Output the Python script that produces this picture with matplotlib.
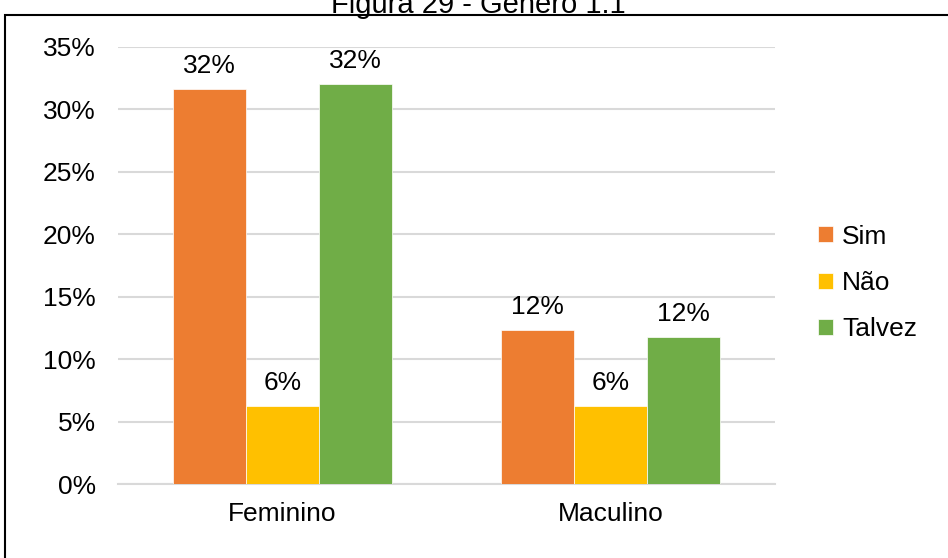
import matplotlib
matplotlib.use("Agg")
import matplotlib.pyplot as plt
import numpy as np
from matplotlib.patches import Rectangle

plt.rcParams["font.family"] = ["Liberation Sans", "DejaVu Sans"]

categories = ["Feminino", "Maculino"]
series = ["Sim", "Não", "Talvez"]
sim = [0.316, 0.123]
nao = [0.0625, 0.0625]
talvez = [0.32, 0.118]
colors = ["#ED7D31", "#FFC000", "#70AD47"]
yticks = [0, 0.05, 0.10, 0.15, 0.20, 0.25, 0.30, 0.35]

FS = 19

fig = plt.figure(figsize=(9.48, 5.58), dpi=100)
ax = fig.add_axes([0.1245, 0.1326, 0.6930, 0.7832])

x = np.arange(len(categories))
width = 0.222
for i, (name, vals, col) in enumerate(zip(series, [sim, nao, talvez], colors)):
    pos = x + (i - 1) * width
    bars = ax.bar(pos, vals, width, color=col, label=name,
                  edgecolor="white", linewidth=0.5, zorder=3)
    for b, v in zip(bars, vals):
        ax.annotate(f"{v:.0%}", (b.get_x() + b.get_width() / 2, v),
                    xytext=(0, 8), textcoords="offset points",
                    ha="center", va="bottom", fontsize=FS)

ax.set_xlim(-0.5, 1.5)
ax.set_ylim(0, 0.35)
ax.set_yticks(yticks)
ax.set_yticklabels([f"{t:.0%}" for t in yticks])
ax.set_xticks(x)
ax.set_xticklabels(categories)
ax.tick_params(axis="both", length=0, labelsize=FS)
ax.tick_params(axis="y", pad=16)
ax.tick_params(axis="x", pad=13)
ax.grid(axis="y", color="#D9D9D9", linewidth=1.5, zorder=0)
for s in ["top", "right", "left"]:
    ax.spines[s].set_visible(False)
ax.spines["bottom"].set_color("#D9D9D9")
ax.spines["bottom"].set_linewidth(1.5)

ax.legend(loc="center left", bbox_to_anchor=(1.03, 0.46), frameon=False,
          fontsize=FS, handlelength=0.55, handleheight=0.55,
          handletextpad=0.35, labelspacing=0.85)

# outer frame of the figure box
fig.patches.append(Rectangle((5 / 948, -0.1), 1.2, 1.1 - 15 / 558,
                             transform=fig.transFigure, fill=False,
                             edgecolor="black", linewidth=1.5))
fig.text(0.505, 1 - 5 / 558, "Figura 29 - Gênero 1.1", ha="center",
         va="center", fontsize=21)

fig.savefig("out.png", dpi=100)
